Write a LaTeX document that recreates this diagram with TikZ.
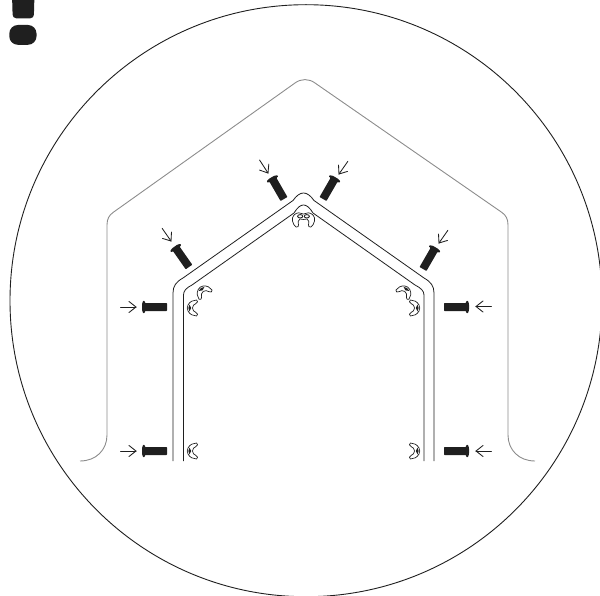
\documentclass[tikz,border=0pt]{standalone}
\definecolor{ink}{gray}{0.12}
\definecolor{wallgrey}{gray}{0.55}
\tikzset{
 x=1pt,y=-1pt,
 thinline/.style={draw=ink,line width=0.8pt,line join=round},
 greyline/.style={draw=wallgrey,line width=0.9pt},
 pointer/.style={draw=ink,line width=0.85pt,line cap=round,line join=miter},
 nutline/.style={draw=ink,line width=0.7pt,fill=white,line join=round},
 pics/bolt/.style={code={
   % origin at the tip of the shaft, pointing along +x
   \fill[ink,rounded corners=0.6pt] (0,-4) -- (-22,-4) -- (-22.5,-6.3) -- (-24,-6) -- (-25,-3) -- (-25,3) -- (-24,6) -- (-22.5,6.3) -- (-22,4) -- (0,4) -- cycle;
 }},
 pics/tick/.style={code={
   % arrow with its point at the origin, pointing along +x
   \draw[pointer] (-15.5,0) -- (0,0);
   \draw[pointer] (-7,-5.5) -- (0,0) -- (-7,5.5);
 }},
 pics/wing/.style={code={
   \path[nutline] (4.5,-8) .. controls (1,-8) and (-2,-6.5) .. (-4,-3) .. controls (-5,-1) and (-5,1) .. (-4,3) .. controls (-2,6.5) and (1,8) .. (4.5,8) .. controls (6,7.5) and (6,5) .. (4,4.5) .. controls (2,4) and (0.5,2) .. (0.5,0) .. controls (0.5,-2) and (2,-4) .. (4,-4.5) .. controls (6,-5) and (6,-7.5) .. (4.5,-8) -- cycle;
   \fill[ink] (-2.5,-3.5) .. controls (-4,-1) and (-4,1) .. (-2.5,3.5) .. controls (-1.2,2) and (-1,1) .. (-0.8,0) .. controls (-1,-1) and (-1.2,-2) .. (-2.5,-3.5) -- cycle;
 }}
}
\begin{document}
\begin{tikzpicture}
\useasboundingbox (0,0) rectangle (600,596);
\clip (0,0) rectangle (600,596);
% detail circle
\node[draw=ink,line width=0.9pt,circle,minimum size=592pt,inner sep=0pt] (lens) at (306,300.7) {};
% blobs
\fill[ink,rounded corners=3.5pt] (12,-6) -- (34.5,-6) -- (33.8,18.3) -- (12.7,18.3) -- cycle;
\fill[ink,rounded corners=8.5pt] (9.3,25) rectangle (36.5,44.8);
% outer grey wall
\draw[greyline] (80,461) .. controls (96,461) and (107,450) .. (107,435) -- (107,225) .. controls (107,219) and (109,215.5) .. (113,212.5) -- (295,83) .. controls (301,78.5) and (309,78.5) .. (315,83) -- (502,212.5) .. controls (506,215.5) and (508,219) .. (508,225) -- (508,435) .. controls (508,450) and (519,461) .. (535,461);
% frame
\draw[thinline] (173,461) -- (173,293) .. controls (173,286) and (176,282) .. (183,278) -- (293,200.5) .. controls (300,190.5) and (307,190.5) .. (314,200.5) -- (424,278) .. controls (431,282) and (434,286) .. (434,293) -- (434,461);
\draw[thinline] (183.5,461) -- (183.5,295) .. controls (183.5,291) and (186,288) .. (192,285) -- (294,213) .. controls (300.5,202.3) and (306.5,202.3) .. (313,213) -- (415,285) .. controls (421,288) and (424,291) .. (424,295) -- (424,461);
% bolts
\pic at (167,307) {bolt};
\pic at (167,451) {bolt};
\pic[xscale=-1] at (444,307) {bolt};
\pic[xscale=-1] at (444,451) {bolt};
\pic[rotate=-55] at (189,267) {bolt};
\pic[rotate=-60] at (284,199) {bolt};
\pic[rotate=-120] at (323,199) {bolt};
\pic[rotate=-120] at (423,269) {bolt};
% arrows
\pic at (136,307) {tick};
\pic at (136,451) {tick};
\pic[xscale=-1] at (476,306.5) {tick};
\pic[xscale=-1] at (476,451) {tick};
\pic[rotate=-55] at (171,241) {tick};
\pic[rotate=-57] at (268,173) {tick};
\pic[rotate=-125] at (339,174) {tick};
\pic[rotate=-125] at (439,243) {tick};
% wing nuts
\pic at (192,308) {wing};
\pic[rotate=-55] at (203,291) {wing};
\pic at (192,451) {wing};
\pic[xscale=-1] at (415,308) {wing};
\pic[xscale=-1,rotate=-55] at (405,291) {wing};
\pic[xscale=-1] at (415,451) {wing};
% paired wing nuts under the ridge
\path[nutline] (296,227) .. controls (292.5,224.5) and (291,218) .. (294,215) .. controls (297,212) and (300.5,212.5) .. (303.5,214) .. controls (306.5,212.5) and (310,212) .. (313,215) .. controls (316,218) and (314.5,224.5) .. (311,227) .. controls (309.5,227.5) and (308,226.5) .. (308.5,225) .. controls (309.5,222.5) and (309,220) .. (307,219) .. controls (305.5,218.5) and (304.5,219) .. (303.5,219.5) .. controls (302.5,219) and (301.5,218.5) .. (300,219) .. controls (298,220) and (297.5,222.5) .. (298.5,225) .. controls (299,226.5) and (297.5,227.5) .. (296,227) -- cycle;
\path[nutline,line width=0.9pt] (300.2,216.3) ellipse [x radius=2.6pt,y radius=1.7pt];
\path[nutline,line width=0.9pt] (306.8,216.3) ellipse [x radius=2.6pt,y radius=1.7pt];
\end{tikzpicture}
\end{document}
